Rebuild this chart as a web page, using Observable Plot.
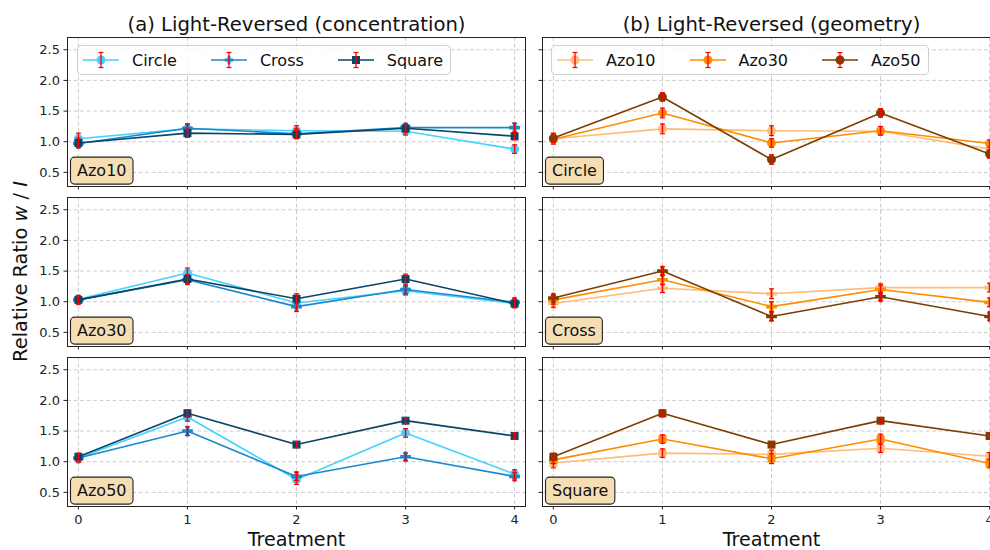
<!DOCTYPE html>
<html><head><meta charset="utf-8">
<script src="https://cdn.jsdelivr.net/npm/d3@7"></script>
<script src="https://cdn.jsdelivr.net/npm/@observablehq/plot@0.6"></script>
<style>
body{margin:0;background:#fff;font-family:"DejaVu Sans",sans-serif;overflow:hidden;}
#wrap{position:relative;width:990px;height:550px;overflow:hidden;}
#wrap svg.chart{max-width:none !important;width:1000px;height:550px;}
.legend{position:absolute;top:45px;height:30px;box-sizing:border-box;border:1px solid #d0d0d0;border-radius:4px;background:rgba(255,255,255,0.8);display:flex;align-items:center;font-size:16px;color:#111;padding-left:5px;padding-right:7px;}
.legend .item{display:flex;align-items:center;margin-right:34px;}
.legend .item:last-child{margin-right:0;}
.legend svg{margin-right:13px;display:block;}
</style></head><body><div id="wrap"></div>
<script>
const treatments=[0,1,2,3,4];
const azoLevels=["Azo10","Azo30","Azo50"];
const geometries=["Circle","Cross","Square"];
const columnTitles=["(a) Light-Reversed (concentration)","(b) Light-Reversed (geometry)"];
const yTicks=[0.5,1.0,1.5,2.0,2.5];
const geometryColors=["#45d2ff","#1789d1","#0b4468"];
const azoColors=["#ffbb78","#ff8c00","#7b3f00"];
const xAxisLabel="Treatment";

// mean relative ratio per treatment
const azo10Circle=[1.05,1.21,1.18,1.17,0.88];
const azo10Cross =[0.97,1.22,1.13,1.23,1.23];
const azo10Square=[0.98,1.14,1.12,1.22,1.09];
const azo30Circle=[1.04,1.47,0.98,1.18,0.97];
const azo30Cross =[1.03,1.36,0.92,1.20,0.99];
const azo30Square=[1.03,1.37,1.05,1.37,0.97];
const azo50Circle=[1.06,1.73,0.71,1.47,0.80];
const azo50Cross =[1.06,1.50,0.76,1.08,0.76];
const azo50Square=[1.08,1.79,1.28,1.67,1.42];
// error bar half-widths
const azo10CircleErr=[0.09,0.08,0.08,0.06,0.07];
const azo10CrossErr =[0.06,0.07,0.08,0.06,0.07];
const azo10SquareErr=[0.08,0.07,0.07,0.07,0.06];
const azo30CircleErr=[0.06,0.08,0.07,0.07,0.06];
const azo30CrossErr =[0.07,0.08,0.08,0.07,0.07];
const azo30SquareErr=[0.06,0.07,0.08,0.08,0.07];
const azo50CircleErr=[0.07,0.07,0.08,0.07,0.07];
const azo50CrossErr =[0.06,0.07,0.07,0.06,0.06];
const azo50SquareErr=[0.06,0.06,0.05,0.05,0.05];

const means=[[azo10Circle,azo10Cross,azo10Square],[azo30Circle,azo30Cross,azo30Square],[azo50Circle,azo50Cross,azo50Square]];
const errs=[[azo10CircleErr,azo10CrossErr,azo10SquareErr],[azo30CircleErr,azo30CrossErr,azo30SquareErr],[azo50CircleErr,azo50CrossErr,azo50SquareErr]];

const rows=[];
azoLevels.forEach((azo,ai)=>geometries.forEach((geo,gi)=>treatments.forEach((t,ti)=>{
  const v=means[ai][gi][ti], e=errs[ai][gi][ti];
  rows.push({col:columnTitles[0],row:ai,k:gi,series:geo,geo,t,v,lo:v-e,hi:v+e});
  rows.push({col:columnTitles[1],row:gi,k:ai,series:azo,geo,t,v,lo:v-e,hi:v+e});
})));

const rowLabels=[
  ...azoLevels.map((l,i)=>({col:columnTitles[0],row:i,label:l})),
  ...geometries.map((l,i)=>({col:columnTitles[1],row:i,label:l}))
];
const xLabels=columnTitles.map(c=>({col:c,row:2,label:xAxisLabel}));

const plusFilled={draw(ctx,size){const w=Math.sqrt(size)/2*1.05,t=w/3;
  ctx.moveTo(-t,-w);ctx.lineTo(t,-w);ctx.lineTo(t,-t);ctx.lineTo(w,-t);ctx.lineTo(w,t);ctx.lineTo(t,t);
  ctx.lineTo(t,w);ctx.lineTo(-t,w);ctx.lineTo(-t,t);ctx.lineTo(-w,t);ctx.lineTo(-w,-t);ctx.lineTo(-t,-t);ctx.closePath();}};
const capSymbol={draw(ctx){ctx.moveTo(-2.5,0);ctx.lineTo(2.5,0);}};

const seriesMarks=[];
for(const k of [0,1,2]){
  const d=rows.filter(r=>r.k===k);
  seriesMarks.push(
    Plot.line(d,{x:"t",y:"v",z:"series",stroke:"series",strokeWidth:1.6,fx:"col",fy:"row"}),
    Plot.dot(d,{x:"t",y:"v",fill:"series",symbol:"geo",r:4.5,fx:"col",fy:"row"}),
    Plot.ruleX(d,{x:"t",y1:"lo",y2:"hi",stroke:"#ff0000",strokeWidth:1.5,fx:"col",fy:"row"}),
    Plot.dot(d,{x:"t",y:"lo",symbol:capSymbol,stroke:"#ff0000",strokeWidth:1.2,fx:"col",fy:"row"}),
    Plot.dot(d,{x:"t",y:"hi",symbol:capSymbol,stroke:"#ff0000",strokeWidth:1.2,fx:"col",fy:"row"})
  );
}

const chart=Plot.plot({
  width:1000,height:550,
  marginLeft:67,marginRight:0,marginTop:36,marginBottom:43,
  className:"chart",
  style:{fontFamily:"DejaVu Sans",fontSize:"13px",color:"#222",background:"white",maxWidth:"none"},
  fx:{domain:columnTitles,paddingInner:0.0358,paddingOuter:0},
  fy:{domain:[0,1,2],paddingInner:0.0715,paddingOuter:0,axis:null},
  x:{domain:[-0.1,4.1]},
  y:{domain:[0.27,2.7]},
  color:{domain:[...geometries,...azoLevels],range:[...geometryColors,...azoColors]},
  symbol:{domain:geometries,range:[d3.symbolCircle,plusFilled,d3.symbolSquare]},
  marks:[
    Plot.gridX({ticks:treatments,stroke:"#b8b8b8",strokeOpacity:0.7,strokeDasharray:"4,2.5"}),
    Plot.gridY({ticks:yTicks,stroke:"#b8b8b8",strokeOpacity:0.7,strokeDasharray:"4,2.5"}),
    ...seriesMarks,
    Plot.frame({stroke:"#222",strokeWidth:1}),
    Plot.axisX({ticks:treatments,tickSize:3.5,tickFormat:()=>"",facetAnchor:null,label:null,stroke:"#222"}),
    Plot.axisX({ticks:treatments,tickSize:0,tickPadding:8,tickFormat:"d",facetAnchor:"bottom",label:null,fontSize:13,fill:"#222"}),
    Plot.axisY({ticks:yTicks,tickSize:3.5,tickFormat:()=>"",facetAnchor:null,label:null,stroke:"#222"}),
    Plot.axisY({ticks:yTicks,tickSize:0,tickPadding:7.5,tickFormat:".1f",facetAnchor:"left",label:null,fontSize:13,fill:"#222"}),
    Plot.axisFx({anchor:"top",tickSize:0,tickPadding:7,fontSize:19.6,label:null,fill:"#111"}),
    Plot.text(rowLabels,{fx:"col",fy:"row",text:"label",frameAnchor:"bottom-left",textAnchor:"start",lineAnchor:"middle",dx:9.5,dy:-15.5,fontSize:16,fill:"#111"}),
    Plot.text(xLabels,{fx:"col",fy:"row",text:"label",frameAnchor:"bottom",lineAnchor:"middle",dy:33,fontSize:19.2,fill:"#111"})
  ]
});
chart.style.maxWidth="none";
chart.setAttribute("width",1000);
chart.style.width="1000px";
chart.style.height="550px";
const wrap=document.getElementById("wrap");
wrap.appendChild(chart);

// label boxes behind the panel labels
const labelSet=new Set([...azoLevels,...geometries]);
d3.select(chart).selectAll("text").filter(function(){return labelSet.has(this.textContent);}).each(function(){
  const b=this.getBBox();
  const r=document.createElementNS("http://www.w3.org/2000/svg","rect");
  r.setAttribute("x",b.x-6.5);r.setAttribute("y",b.y-4);
  r.setAttribute("width",b.width+13);r.setAttribute("height",b.height+8);
  r.setAttribute("rx",4);r.setAttribute("fill","#f5deb3");r.setAttribute("stroke","#222");r.setAttribute("stroke-width",1.1);
  const tr=this.getAttribute("transform"); if(tr) r.setAttribute("transform",tr);
  this.parentNode.insertBefore(r,this);
});

// y label with italic symbols
const yl=d3.select(chart).append("text").attr("transform","translate(20,271.5) rotate(-90)")
  .attr("text-anchor","middle").attr("dy","0.35em").attr("font-size",19.4).attr("fill","#111");
yl.append("tspan").text("Relative Ratio ");
yl.append("tspan").attr("font-style","italic").text("w");
yl.append("tspan").text(" / ");
yl.append("tspan").attr("font-style","italic").text("I");

// legends
function makeLegend(names,colors,left){
  const div=document.createElement("div");div.className="legend";div.style.left=left+"px";
  names.forEach((n,i)=>{
    const item=document.createElement("div");item.className="item";
    const s=d3.create("svg").attr("width",36).attr("height",24);
    s.append("line").attr("x1",0).attr("x2",36).attr("y1",12).attr("y2",12).attr("stroke",colors[i]).attr("stroke-width",1.6);
    const gi=geometries.indexOf(n);
    const sym=[d3.symbolCircle,plusFilled,d3.symbolSquare][gi>=0?gi:0];
    s.append("path").attr("d",d3.symbol(sym,63.6)()).attr("transform","translate(18,12)").attr("fill",colors[i]);
    s.append("line").attr("x1",18).attr("x2",18).attr("y1",4.5).attr("y2",19.5).attr("stroke","#ff0000").attr("stroke-width",1.3);
    s.append("line").attr("x1",15.5).attr("x2",20.5).attr("y1",4.5).attr("y2",4.5).attr("stroke","#ff0000").attr("stroke-width",1.2);
    s.append("line").attr("x1",15.5).attr("x2",20.5).attr("y1",19.5).attr("y2",19.5).attr("stroke","#ff0000").attr("stroke-width",1.2);
    item.appendChild(s.node());
    const sp=document.createElement("span");sp.textContent=n;item.appendChild(sp);
    div.appendChild(item);
  });
  wrap.appendChild(div);
}
makeLegend(geometries,geometryColors,77);
makeLegend(azoLevels,azoColors,551);
</script></body></html>
